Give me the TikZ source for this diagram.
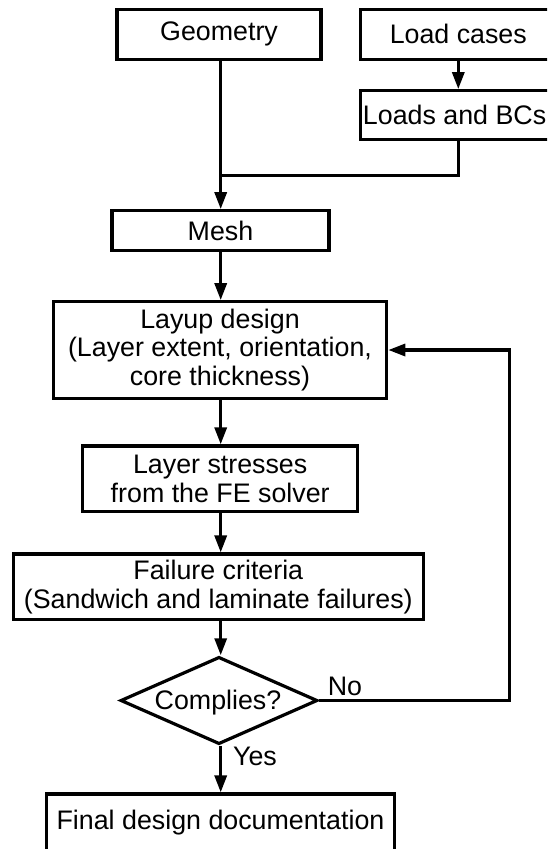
\documentclass[tikz,border=0pt]{standalone}
\usepackage{fontspec}
\setmainfont{Liberation Sans}
\usetikzlibrary{arrows.meta,shapes.geometric}
\begin{document}
\begin{tikzpicture}[x=1pt,y=-1pt,
  every node/.style={font=\fontsize{26.8}{28.8}\selectfont, inner sep=0pt},
  box/.style={draw, line width=3.2pt, rectangle, align=center},
  dec/.style={draw, line width=3.2pt, diamond, aspect=2.26},
  conn/.style={line width=3.2pt},
  arr/.style={conn, -{Triangle[length=17pt,width=12pt]}},
  lbl/.style={}]
\useasboundingbox (0,0) rectangle (547,849);
\clip (0,0) rectangle (547,849);
\node[box, minimum width=204pt, minimum height=50pt] (geom) at (219,34.3) {Geometry};
\node[box, minimum width=195pt, minimum height=50pt] (load) at (458.3,34.3) {Load cases};
\node[box, minimum width=195pt, minimum height=48.6pt] (bcs) at (458.3,115) {\hspace*{-7.4pt}Loads and BCs};
\node[box, minimum width=217pt, minimum height=40pt] (mesh) at (220.5,230.7) {Mesh};
\node[box, minimum width=333.4pt, minimum height=96.6pt] (layup) at (220,350) {Layup design\\(Layer extent, orientation,\\core thickness)};
\node[box, minimum width=275pt, minimum height=65.7pt] (stress) at (220.2,478.8) {Layer stresses\\from the FE solver};
\node[box, minimum width=410pt, minimum height=65.5pt] (fail) at (218.3,586.8) {Failure criteria\\(Sandwich and laminate failures)};
\node[dec, minimum width=197pt, minimum height=87.3pt] (dia) at (219,700.5) {};
\node (diatxt) at (218,703) {Complies?};
\node[box, minimum width=347.6pt, minimum height=58pt] (final) at (220.5,823) {Final design documentation};
\node[lbl] (no) at (345,686.7) {No};
\node[lbl] (yes) at (255,756.7) {Yes};
\coordinate (axis) at (220.7,0);
\coordinate (join) at (220.7,175.7);
\coordinate (loopc) at (509.3,700.5);
\draw[arr] (geom.south -| axis) -- (axis |- mesh.north);
\draw[arr] (load) -- (bcs);
\draw[conn] (bcs.south) |- (join);
\draw[arr] (mesh.south -| axis) -- (axis |- layup.north);
\draw[arr] (layup.south -| axis) -- (axis |- stress.north);
\draw[arr] (stress.south -| axis) -- (axis |- fail.north);
\draw[arr] (fail.south -| axis) -- (axis |- dia.north);
\draw[arr] (dia.south -| axis) -- (axis |- final.north);
\draw[arr] (dia.east) -- (loopc) |- (layup.east);
\end{tikzpicture}
\end{document}
